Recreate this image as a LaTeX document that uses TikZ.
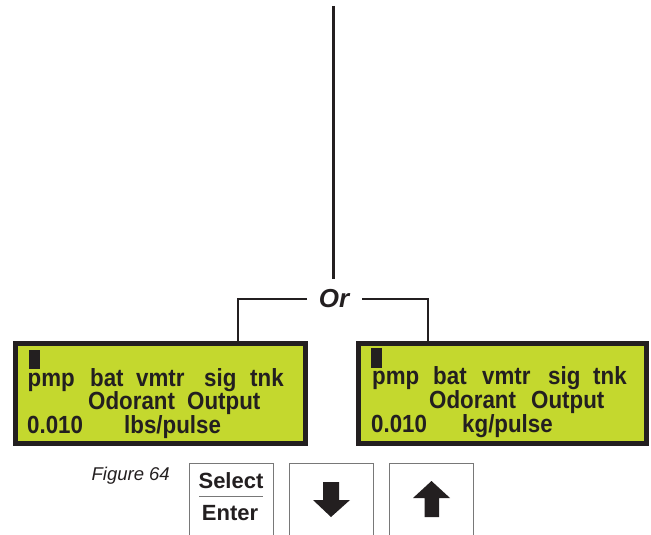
\documentclass[tikz,border=0pt]{standalone}
\usepackage{fontspec}
\setmainfont{Liberation Sans}
\newfontfamily\lcdfont[FakeStretch=0.9]{Liberation Sans}
\definecolor{lcd}{RGB}{196,216,46}
\definecolor{ink}{RGB}{35,31,32}
\definecolor{keyline}{RGB}{120,120,120}
\begin{document}
\begin{tikzpicture}[x=1pt,y=-1pt,
  lcdbox/.style={draw=ink, line width=5pt, fill=lcd, inner sep=0pt},
  lcdtxt/.style={anchor=base west, inner sep=0pt, font=\lcdfont\fontsize{24.8}{24.8}\selectfont\bfseries, text=ink},
  keybox/.style={draw=keyline, line width=1pt, fill=white, minimum width=84pt, minimum height=72pt, inner sep=0pt},
  keytxt/.style={inner sep=0pt, anchor=base, font=\fontsize{22}{22}\selectfont\bfseries, text=ink},
  wire/.style={draw=ink, line width=2pt},
  cursor/.style={fill=ink, draw=none}]
\useasboundingbox (0,0) rectangle (651,535);

% LCD displays
\node[lcdbox, minimum width=290pt, minimum height=100pt] (lcdL) at (160.5,393.5) {};
\node[lcdbox, minimum width=288pt, minimum height=100pt] (lcdR) at (502.5,393.5) {};

% Or connector
\node[inner sep=0pt, anchor=base, font=\fontsize{26}{26}\selectfont\bfseries\itshape, text=ink] (or) at (334,307) {Or};
\coordinate (top) at (333,6);
\coordinate (ortop) at (333,279);
\coordinate (orL) at (307,299);
\coordinate (orR) at (362,299);
\coordinate (jL) at (238,299);
\coordinate (jR) at (428,299);
\draw[ink, line width=3pt] (top) -- (ortop);
\draw[wire] (orL) -- (jL) -- (jL |- lcdL.north);
\draw[wire] (orR) -- (jR) -- (jR |- lcdR.north);

% Left LCD text
\fill[cursor] (29,350) rectangle (40,369);
\node[lcdtxt] (l1a) at (27.5,386) {pmp};
\node[lcdtxt] (l1b) at (90,386) {bat};
\node[lcdtxt] (l1c) at (136,386) {vmtr};
\node[lcdtxt] (l1d) at (204,386) {sig};
\node[lcdtxt] (l1e) at (250,386) {tnk};
\node[lcdtxt] (l2a) at (88,409) {Odorant};
\node[lcdtxt] (l2b) at (187,409) {Output};
\node[lcdtxt] (l3a) at (27,433) {0.010};
\node[lcdtxt] (l3b) at (124,433) {lbs/pulse};

% Right LCD text
\fill[cursor] (371,348) rectangle (382,368);
\node[lcdtxt] (r1a) at (372,384) {pmp};
\node[lcdtxt] (r1b) at (433,384) {bat};
\node[lcdtxt] (r1c) at (482,384) {vmtr};
\node[lcdtxt] (r1d) at (548,384) {sig};
\node[lcdtxt] (r1e) at (593,384) {tnk};
\node[lcdtxt] (r2a) at (429,408) {Odorant};
\node[lcdtxt] (r2b) at (531,408) {Output};
\node[lcdtxt] (r3a) at (371,432) {0.010};
\node[lcdtxt] (r3b) at (462,432) {kg/pulse};

% Figure label
\node[inner sep=0pt, anchor=base east, font=\fontsize{18.5}{18.5}\selectfont\itshape, text=ink] (fig) at (170,480.5) {Figure 64};

% Keys
\node[keybox] (ksel) at (231,499.5) {};
\node[keybox] (kdown) at (331,499.5) {};
\node[keybox] (kup) at (431,499.5) {};
\node[keytxt] (sel) at (231,488) {Select};
\node[keytxt] (ent) at (230,520.5) {Enter};
\draw[keyline, line width=1.2pt] (199,496.7) -- (263,496.7);
\fill[ink] (323,482) -- (339,482) -- (339,500) -- (350,500) -- (331,517) -- (313,500) -- (323,500) -- cycle;
\fill[ink] (424.5,517) -- (439,517) -- (439,498) -- (450,498) -- (431.5,481) -- (413,498) -- (424.5,498) -- cycle;
\end{tikzpicture}
\end{document}
